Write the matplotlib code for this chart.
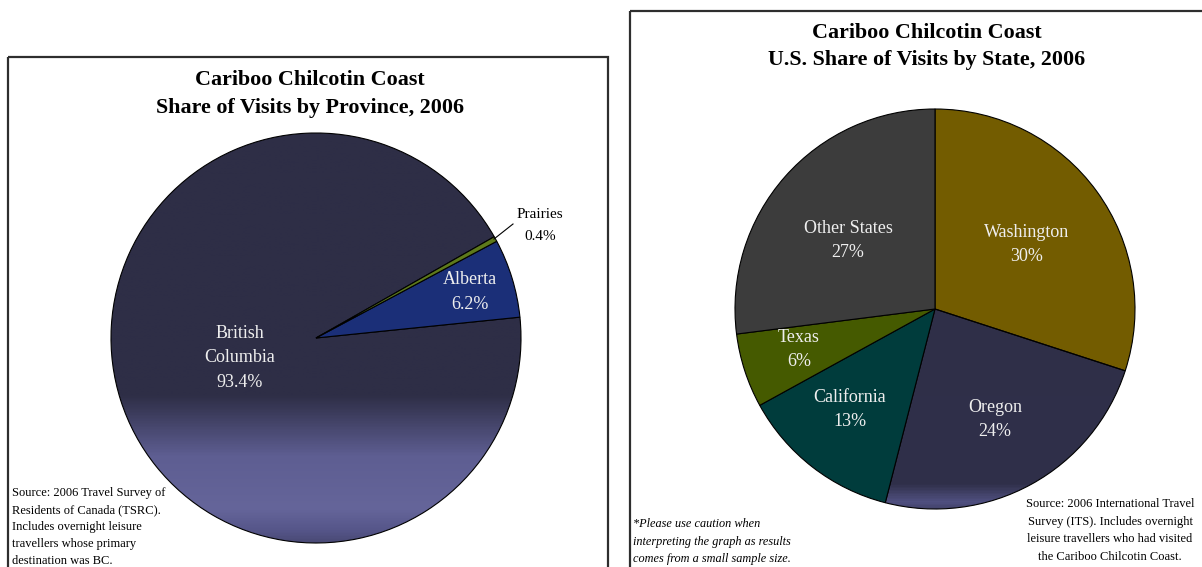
import numpy as np
import matplotlib
matplotlib.use('Agg')
import matplotlib.pyplot as plt
from matplotlib.colors import LinearSegmentedColormap
from matplotlib.patches import Rectangle

# data
prov_names = ['British\nColumbia', 'Alberta', 'Prairies']
prov_share = [93.4, 6.2, 0.4]
prov_colors = ['#2E2E46', '#1B2F78', '#5E7A1C']

state_names = ['Washington', 'Oregon', 'California', 'Texas', 'Other States']
state_share = [30, 24, 13, 6, 27]
state_colors = ['#735C00', '#2F2F48', '#003C3C', '#455A00', '#3C3C3C']

W, H = 1202, 567
serif = ['Liberation Serif', 'DejaVu Serif']
plt.rcParams['font.family'] = serif

fig = plt.figure(figsize=(W / 100, H / 100), dpi=100)

# full-figure canvas in pixel units for frames and text
canvas = fig.add_axes([0, 0, 1, 1], zorder=5)
canvas.set_xlim(0, W)
canvas.set_ylim(H, 0)
canvas.axis('off')
canvas.patch.set_alpha(0)


def pie_axes(cx, cy, r):
    ax = fig.add_axes([(cx - r) / W, (H - cy - r) / H, 2 * r / W, 2 * r / H])
    ax.set_xlim(-1, 1)
    ax.set_ylim(-1, 1)
    ax.set_aspect('equal')
    ax.axis('off')
    return ax


def gradient_fill(ax, wedge, stops):
    cmap = LinearSegmentedColormap.from_list('g', stops)
    grad = np.linspace(0, 1, 400).reshape(-1, 1)
    im = ax.imshow(grad, cmap=cmap, extent=(-1, 1, -1, 1), origin='upper',
                   aspect='auto', zorder=0.5)
    im.set_clip_path(wedge)


# ---- left: provinces ----
ax1 = pie_axes(316, 338, 205)
w1, _ = ax1.pie(prov_share, colors=prov_colors, startangle=29.6, counterclock=True,
                radius=1, wedgeprops=dict(edgecolor='black', linewidth=0.8))
ax1.set_xlim(-1, 1)
ax1.set_ylim(-1, 1)
w1[0].set_facecolor('none')
gradient_fill(ax1, w1[0], [(0.0, '#2E2E46'), (0.64, '#2E2E46'), (0.79, '#5E5E92'),
                           (0.92, '#65659A'), (0.97, '#56568A'), (1.0, '#4A4A76')])

# ---- right: states ----
ax2 = pie_axes(935, 309, 200)
w2, _ = ax2.pie(state_share, colors=state_colors, startangle=90, counterclock=False,
                radius=1, wedgeprops=dict(edgecolor='black', linewidth=0.8))
ax2.set_xlim(-1, 1)
ax2.set_ylim(-1, 1)
w2[1].set_facecolor('none')
gradient_fill(ax2, w2[1], [(0.0, '#2F2F48'), (0.5, '#2F2F48'), (0.94, '#30304A'),
                           (0.985, '#505080'), (1.0, '#45456E')])

# ---- frames ----
canvas.add_patch(Rectangle((8, 57), 600, 600, fill=False, edgecolor='#2E2E2E', linewidth=1.6))
canvas.add_patch(Rectangle((630, 11), 600, 600, fill=False, edgecolor='#2E2E2E', linewidth=1.6))

# ---- titles ----
canvas.text(310, 94, 'Cariboo Chilcotin Coast\nShare of Visits by Province, 2006',
            ha='center', va='center', fontsize=15.8, fontweight='bold', linespacing=1.5)
canvas.text(927, 46.5, 'Cariboo Chilcotin Coast\nU.S. Share of Visits by State, 2006',
            ha='center', va='center', fontsize=15.8, fontweight='bold', linespacing=1.5)

# ---- slice labels ----
label_col = '#EEEEEE'
prov_pos = [(240, 358), (470, 292)]
for (x, y), name, v in zip(prov_pos, prov_names[:2], prov_share[:2]):
    canvas.text(x, y, f'{name}\n{v:.1f}%', ha='center', va='center', fontsize=13,
                color=label_col, linespacing=1.57)
canvas.text(540, 225.5, f'{prov_names[2]}\n{prov_share[2]:.1f}%', ha='center', va='center',
            fontsize=11, color='black', linespacing=1.8)
canvas.plot([494, 513], [239, 224], color='black', linewidth=0.8)

state_pos = [(1027, 244.5), (995, 419.5), (850, 409.5), (799, 349.5), (848, 240.5)]
for (x, y), name, v in zip(state_pos, state_names, state_share):
    canvas.text(x, y, f'{name}\n{v}%', ha='center', va='center', fontsize=13,
                color=label_col, linespacing=1.5)

# ---- notes ----
canvas.text(12, 527, 'Source: 2006 Travel Survey of\nResidents of Canada (TSRC).\n'
            'Includes overnight leisure\ntravellers whose primary\ndestination was BC.',
            ha='left', va='center', fontsize=9, linespacing=1.55)
canvas.text(633, 541.5, '*Please use caution when\ninterpreting the graph as results\n'
            'comes from a small sample size.',
            ha='left', va='center', fontsize=8.8, style='italic', linespacing=1.63)
# this note runs close to the right edge of the picture, as in the original
canvas.text(1110, 530.5, 'Source: 2006 International Travel\nSurvey (ITS). Includes overnight\n'
            'leisure travellers who had visited\nthe Cariboo Chilcotin Coast.',
            ha='center', va='center', multialignment='center', fontsize=9, linespacing=1.63)

fig.savefig('out.png', dpi=100)
